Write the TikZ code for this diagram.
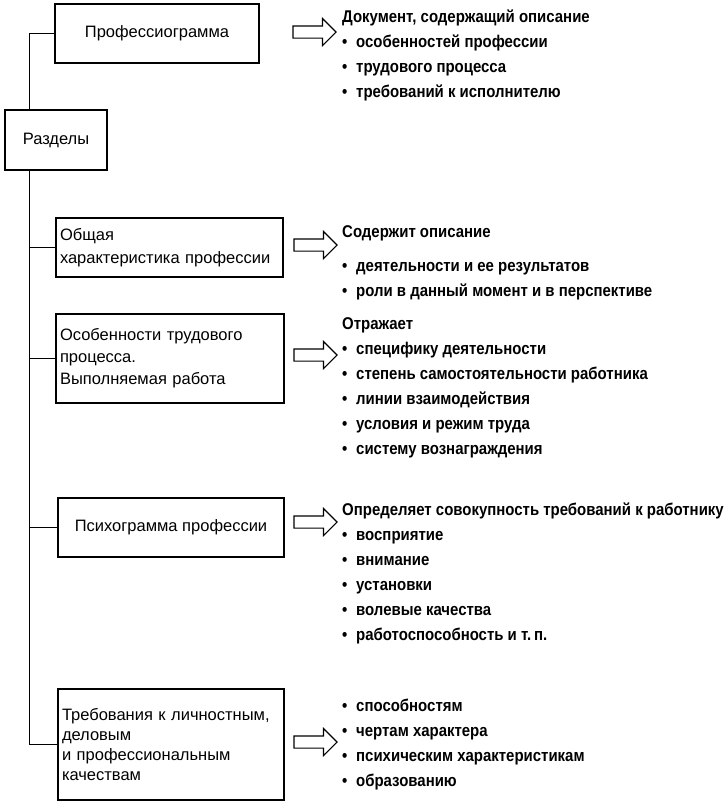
\documentclass[tikz,border=0pt]{standalone}
\usepackage{fontspec}
\setmainfont{Liberation Sans}
\newfontfamily\notefont[FakeStretch=0.88]{Liberation Sans}
\usetikzlibrary{shapes.arrows}
\newcommand{\itm}[1]{\makebox[14pt][l]{\textbullet}#1}

\begin{document}
\begin{tikzpicture}[x=1pt, y=-1pt,
    sect/.style={draw, line width=1.1pt, inner xsep=4pt, inner ysep=0pt,
      font=\fontsize{16.5}{20}\selectfont},
    note/.style={anchor=north west, inner sep=0pt, align=left,
      font=\notefont\bfseries\fontsize{17}{25}\selectfont},
    hollow/.style={single arrow, draw, line width=1.1pt, inner xsep=0pt, inner ysep=5.5pt,
      minimum height=43pt, single arrow head extend=7.5pt}]
  \useasboundingbox (0,0) rectangle (726,801);

  \node[sect, minimum width=204pt, minimum height=59pt] (prof) at (157,33.5) {Профессиограмма};
  \node[sect, minimum width=102pt, minimum height=60pt] (razd) at (56,140) {Разделы};
  \node[sect, minimum width=227pt, minimum height=59pt, text width=219pt, align=left,
    font=\fontsize{16.5}{23}\selectfont] (obsh) at (169.5,247.5) {Общая\\характеристика профессии};
  \node[sect, minimum width=228pt, minimum height=89pt, text width=220pt, align=left,
    font=\fontsize{16.5}{22}\selectfont] (osob) at (170,358.5) {Особенности трудового\\процесса.\\Выполняемая работа};
  \node[sect, minimum width=226pt, minimum height=59pt] (psih) at (171,527.5) {Психограмма профессии};
  \node[sect, minimum width=226pt, minimum height=111pt, text width=218pt, align=left] (treb) at (171,744.5) {Требования к личностным,\\деловым\\и профессиональным\\качествам};

  \coordinate (trunk) at (29,0);
  \draw[line width=1pt] (prof.west) -| (razd.north -| trunk);
  \draw[line width=1pt] (razd.south -| trunk) |- (treb.west);
  \draw[line width=1pt] (obsh.west) -- (obsh.west -| trunk);
  \draw[line width=1pt] (osob.west) -- (osob.west -| trunk);
  \draw[line width=1pt] (psih.west) -- (psih.west -| trunk);

  \node[hollow] (a1) at (311.5,32) {};
  \node[hollow] (a2) at (312.5,245) {};
  \node[hollow] (a3) at (312.5,355) {};
  \node[hollow] (a4) at (312.5,522) {};
  \node[hollow] (a5) at (312.5,742) {};

  \node[note] (n1) at (342,9.5) {Документ, содержащий описание\\\itm{особенностей профессии}\\\itm{трудового процесса}\\\itm{требований к исполнителю}};
  \node[note] (n2) at (342,225.5) {Содержит описание\\[9pt]\itm{деятельности и ее результатов}\\\itm{роли в данный момент и в перспективе}};
  \node[note] (n3) at (342,317.5) {Отражает\\\itm{специфику деятельности}\\\itm{степень самостоятельности работника}\\\itm{линии взаимодействия}\\\itm{условия и режим труда}\\\itm{систему вознаграждения}};
  \node[note] (n4) at (342,502.5) {Определяет совокупность требований к работнику\\\itm{восприятие}\\\itm{внимание}\\\itm{установки}\\\itm{волевые качества}\\\itm{работоспособность и т.\,п.}};
  \node[note] (n5) at (342,699) {\itm{способностям}\\\itm{чертам характера}\\\itm{психическим характеристикам}\\\itm{образованию}};
\end{tikzpicture}
\end{document}
